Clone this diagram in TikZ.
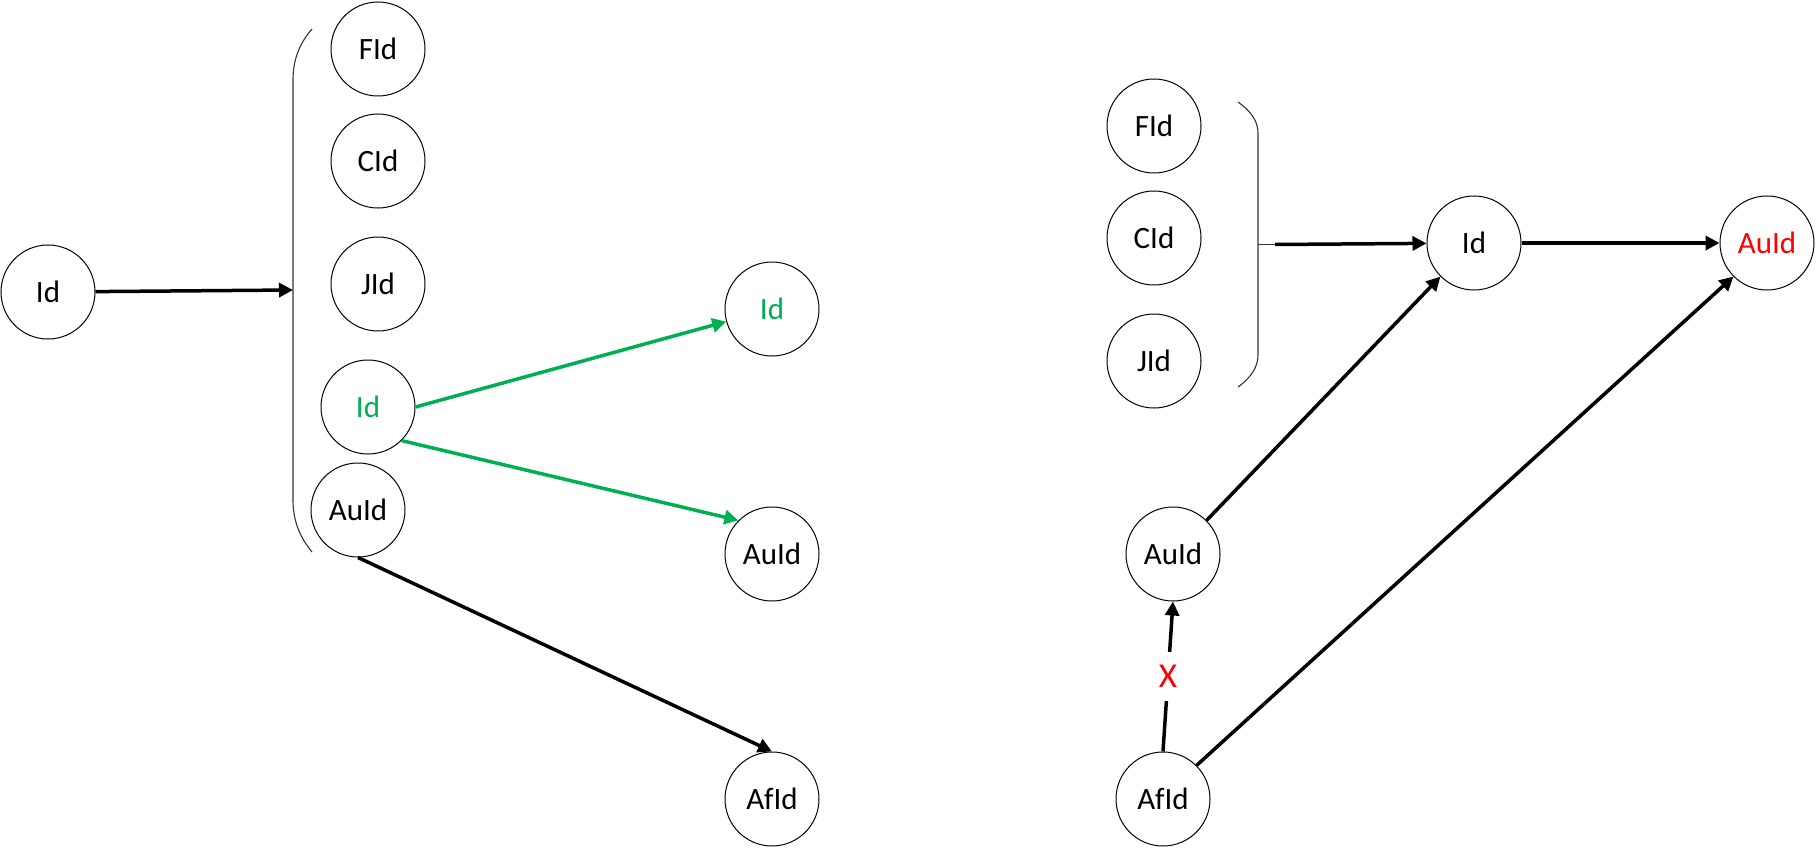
\documentclass[tikz,border=0pt]{standalone}
\usepackage{fontspec}
\setmainfont{Carlito}
\usepackage{tikz}
\usetikzlibrary{arrows.meta}

\definecolor{idgreen}{RGB}{0,176,80}

\begin{document}
\begin{tikzpicture}[x=1pt, y=-1pt,
		idnode/.style={circle, draw, line width=1pt, minimum size=94pt, inner sep=0pt, font=\fontsize{31}{37}\selectfont},
		arr/.style={line width=3.5pt, -{Triangle[length=14pt,width=14pt]}},
		brace/.style={line width=1.1pt, black!80}]
					\useasboundingbox (0,0) rectangle (1816,848);
					
					% Left part: Id points at the bracketed group
					\node[idnode] (idL) at (48,292) {Id};
					\coordinate (braceL) at (293,290);
					\draw[brace] (312,29) .. controls (298,45) and (293,62) .. (293,80) -- (293,500) .. controls (293,518) and (298,535) .. (312,552);
					\draw[arr] (idL) -- (braceL);
					
					% Draw group members
					\foreach \lbl/\y in {F/49,C/161,J/284}
					\node[idnode] (left\lbl) at (378,\y) {\lbl Id};
					\node[idnode, text=idgreen] (idG) at (368,407) {Id};
					\node[idnode] (auL) at (358,510) {AuId};
					
					% Draw targets on the far left column
					\node[idnode, text=idgreen] (idGR) at (772,309) {Id};
					\node[idnode] (auGR) at (772,554) {AuId};
					\node[idnode] (afL) at (772,799) {AfId};
					
					% Green arrows from Id, black arrow from AuId
					\draw[arr, idgreen] (idG.east) -- (idGR);
					\draw[arr, idgreen] (idG.south east) -- (auGR.north west);
					\draw[arr] (auL.south) -- (afL.north);
					
					% Right part: bracketed group
					\foreach \lbl/\y in {F/126,C/238,J/361}
					\node[idnode] (right\lbl) at (1154,\y) {\lbl Id};
					\draw[brace] (1238,102) .. controls (1252,112) and (1258,122) .. (1258,133) -- (1258,355) .. controls (1258,366) and (1252,377) .. (1238,387);
					\coordinate (braceR) at (1258,244.5);
					\coordinate (tickR) at (1275,244.5);
					\draw[brace] (braceR) -- (tickR);
					
					% Draw Id and red AuId
					\node[idnode] (idR) at (1474,243) {Id};
					\node[idnode, text=red] (auRed) at (1767,243) {AuId};
					\draw[arr] (tickR) -- (idR);
					\draw[arr] (idR) -- (auRed);
					
					% Draw AuId and AfId below
					\node[idnode] (auR) at (1173,554) {AuId};
					\node[idnode] (afR) at (1163,799) {AfId};
					\draw[arr] (auR.north east) -- (idR.south west);
					\draw[arr] (afR.north east) -- (auRed.south west);
					\draw[arr] (afR.north) -- node[fill=white, inner xsep=4pt, inner ysep=13pt, text=red, font=\fontsize{35}{40}\selectfont] {X} (auR.south);
\end{tikzpicture}
\end{document}
